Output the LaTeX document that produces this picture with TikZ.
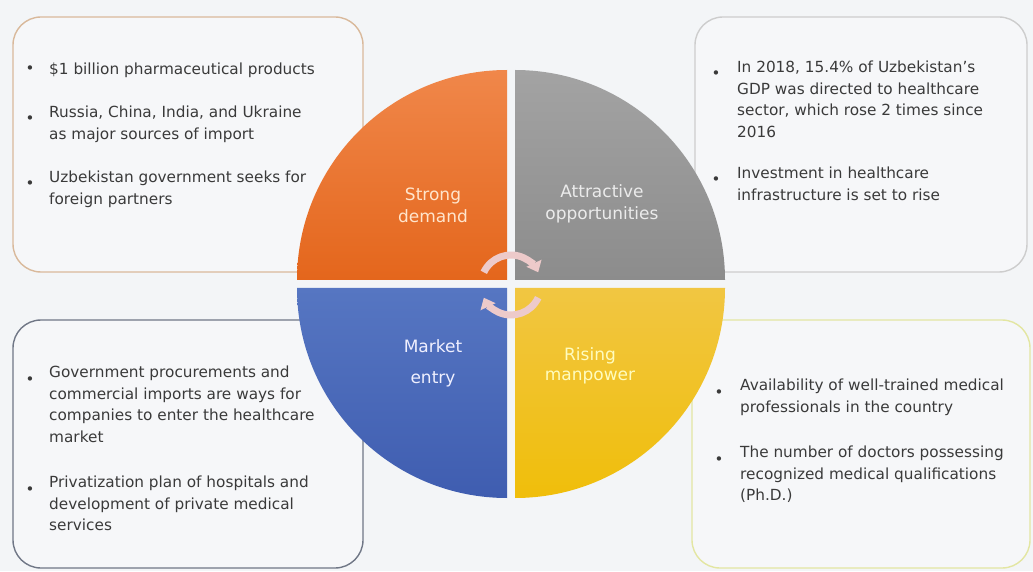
\documentclass[tikz,border=0pt]{standalone}
\usepackage{fontspec}
\setmainfont{DejaVu Sans}
\usetikzlibrary{arrows.meta,positioning}

\definecolor{paper}{HTML}{F3F5F7}
\definecolor{boxfill}{HTML}{F6F7F9}
\definecolor{bodytext}{HTML}{3A3A3A}
\definecolor{edgeTL}{HTML}{D9B99B}
\definecolor{edgeTR}{HTML}{CDCDCD}
\definecolor{edgeBL}{HTML}{707786}
\definecolor{edgeBR}{HTML}{E3E6A2}
\definecolor{orTop}{HTML}{F0874A}
\definecolor{orBot}{HTML}{E4661C}
\definecolor{grTop}{HTML}{A3A3A3}
\definecolor{grBot}{HTML}{8C8C8C}
\definecolor{blTop}{HTML}{5676C2}
\definecolor{blBot}{HTML}{3F5DB0}
\definecolor{yeTop}{HTML}{F1C642}
\definecolor{yeBot}{HTML}{F0BE0A}
\definecolor{arrowpink}{HTML}{EDCACA}

\tikzset{
  infobox/.style={rounded corners=28pt, line width=1.4pt, fill=boxfill},
  itemtext/.style={anchor=north west, yshift=18pt, align=left, inner sep=0pt, text=bodytext,
    font=\fontsize{15.3}{21.5}\selectfont, execute at begin node=\rule{0pt}{18pt}},
  itemdot/.style={anchor=base, inner sep=0pt, text=bodytext, font=\fontsize{15}{15}\selectfont},
  quartertext/.style={align=center, inner sep=0pt, font=\fontsize{17}{22}\selectfont},
  turnarrow/.style={line width=7pt, draw=arrowpink, -{Triangle[length=10pt,width=16pt]}},
}

\begin{document}
\begin{tikzpicture}[x=1pt,y=1pt]
\useasboundingbox[fill=paper] (0,0) rectangle (1033,571);

% boxes behind the circle
\draw[infobox, draw=edgeTL] (13,554) rectangle (363,299);
\draw[infobox, draw=edgeTR] (695,554) rectangle (1027,299);
\draw[infobox, draw=edgeBL] (13,251) rectangle (363,3);
\draw[infobox, draw=edgeBR] (692,251) rectangle (1030,3);

% the four quarters
\foreach \cx/\cy/\ang/\ctop/\cbot in {507/291/90/orTop/orBot, 515/291/0/grTop/grBot,
    507/283/180/blTop/blBot, 515/283/270/yeTop/yeBot}
  \path[top color=\ctop, bottom color=\cbot] (\cx,\cy) -- ++(\ang:210pt)
    arc[start angle=\ang, delta angle=90, radius=210pt] -- cycle;

\node[quartertext, text=white!80!orange] (strong) at (433,366) {Strong\\demand};
\node[quartertext, text=white!92!black] (attractive) at (602,367) {Attractive\\opportunities};
\node[quartertext, text=white!94!blue, font=\fontsize{17}{31}\selectfont] (market) at (433,208) {Market\\entry};
\node[quartertext, text=white!75!yellow, font=\fontsize{17}{20}\selectfont] (rising) at (590,205) {Rising\\manpower};

% turning arrows in the middle
\coordinate (hub) at (511,286);
\draw[turnarrow] (hub) ++(155:30pt) arc[start angle=155, end angle=25, radius=30pt];
\draw[turnarrow] (hub) ++(-25:30pt) arc[start angle=-25, end angle=-155, radius=30pt];

% top left
\node[itemtext] (tl1) at (49,497) {\$1 billion pharmaceutical products};
\node[itemtext] (tl2) at (49,447) {Russia, China, India, and Ukraine\\as major sources of import};
\node[itemtext] (tl3) at (49,382) {Uzbekistan government seeks for\\foreign partners};
% top right
\node[itemtext] (tr1) at (737,492) {In 2018, 15.4\% of Uzbekistan’s\\GDP was directed to healthcare\\sector, which rose 2 times since\\2016};
\node[itemtext] (tr2) at (737,386) {Investment in healthcare\\infrastructure is set to rise};
% bottom left
\node[itemtext] (bl1) at (49,187) {Government procurements and\\commercial imports are ways for\\companies to enter the healthcare\\market};
\node[itemtext] (bl2) at (49,77) {Privatization plan of hospitals and\\development of private medical\\services};
% bottom right
\node[itemtext] (br1) at (740,174) {Availability of well-trained medical\\professionals in the country};
\node[itemtext] (br2) at (740,107) {The number of doctors possessing\\recognized medical qualifications\\(Ph.D.)};

\foreach \t in {tl1,tl2,tl3,bl1,bl2}
  \node[itemdot] (dot-\t) at ([xshift=-19pt,yshift=-18pt]\t.north west) {•};
\foreach \t in {tr1,tr2,br1,br2}
  \node[itemdot] (dot-\t) at ([xshift=-21pt,yshift=-18pt]\t.north west) {•};
\end{tikzpicture}
\end{document}
